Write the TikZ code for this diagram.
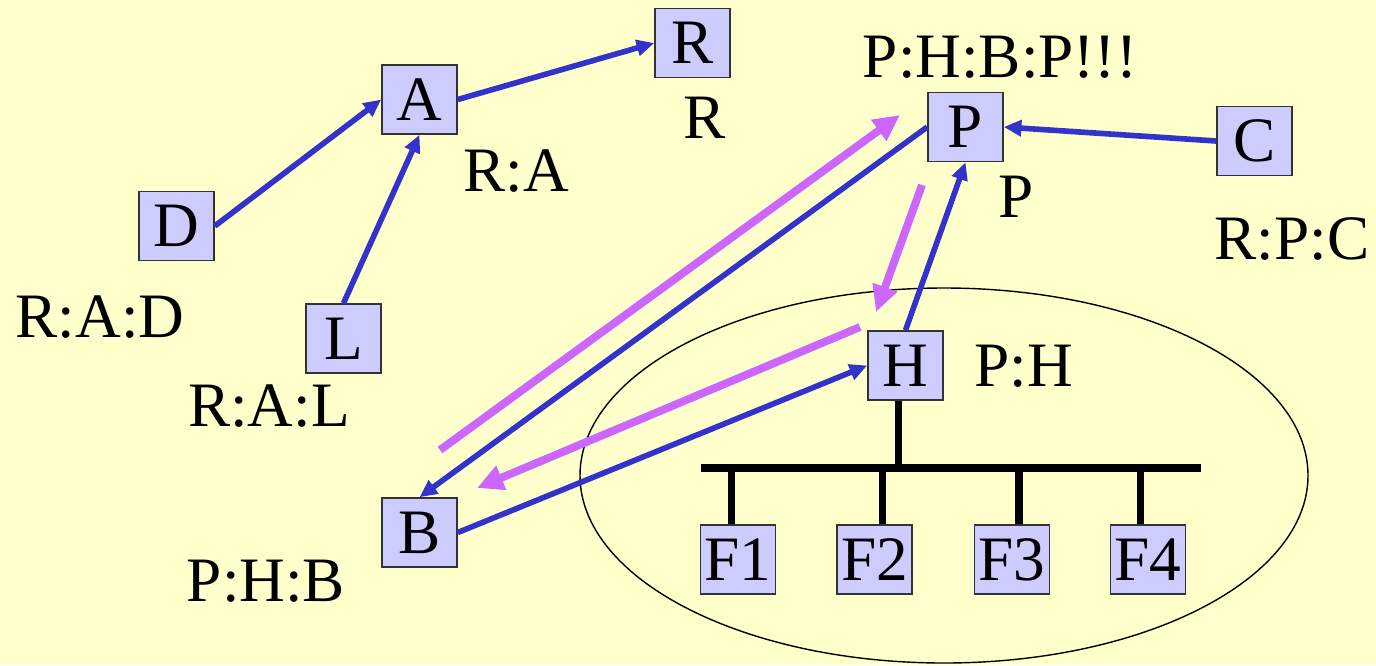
\documentclass[tikz,border=0pt]{standalone}
\usepackage{fontspec}
\setmainfont{Liberation Serif}
\usepackage{xcolor}
\definecolor{paper}{RGB}{255,255,204}
\definecolor{boxfill}{RGB}{204,204,255}
\definecolor{linkblue}{RGB}{51,51,204}
\definecolor{msgpink}{RGB}{204,102,255}
\usepackage{tikz}
\usetikzlibrary{
  arrows.meta,
  positioning,
  shapes.geometric
}

\begin{document}
\begin{tikzpicture}[
  host/.style={rectangle, draw=black!80, line width=0.9pt, fill=boxfill, minimum width=1.5cm, minimum height=1.38cm, inner sep=0pt, font=\fontsize{36}{36}\selectfont},
  tag/.style={inner sep=0pt, font=\fontsize{36}{36}\selectfont},
  edge/.style={-{Triangle[length=10pt, width=9pt]}, line width=3.2pt, linkblue},
  msg/.style={-{Triangle[length=15pt, width=14pt]}, line width=4.5pt, msgpink},
  bus/.style={line width=4.5pt, black}
]
  % Background
  \fill[paper] (0,0) rectangle (27.52,-13.3);
  \useasboundingbox (0,0) rectangle (27.52,-13.3);

  % Local network
  \node[ellipse, draw, line width=0.8pt, minimum width=14.56cm, minimum height=7.5cm] (lan) at (18.88,-9.51) {};

  % Hosts
  \node[host] (R) at (13.85,-0.86) {R};
  \node[host] (A) at (8.39,-1.99) {A};
  \node[host] (D) at (3.53,-4.52) {D};
  \node[host] (L) at (6.87,-6.77) {L};
  \node[host] (P) at (19.31,-2.54) {P};
  \node[host] (C) at (25.09,-2.82) {C};
  \node[host] (H) at (18.11,-7.31) {H};
  \node[host] (B) at (8.39,-10.65) {B};
  \node[host] (F1) at (14.76,-11.19) {F1};
  \node[host] (F2) at (17.49,-11.19) {F2};
  \node[host] (F3) at (20.24,-11.19) {F3};
  \node[host] (F4) at (22.96,-11.19) {F4};

  % Paths
  \node[tag] (tR) at (14.10,-2.36) {R};
  \node[tag] (tA) at (10.32,-3.42) {R:A};
  \node[tag] (tD) at (2.00,-6.34) {R:A:D};
  \node[tag] (tL) at (5.38,-8.12) {R:A:L};
  \node[tag] (tPtop) at (20.00,-1.14) {P:H:B:P!!!};
  \node[tag] (tP) at (20.32,-3.94) {P};
  \node[tag] (tC) at (25.84,-4.78) {R:P:C};
  \node[tag] (tH) at (20.48,-7.32) {P:H};
  \node[tag] (tB) at (5.32,-11.62) {P:H:B};

  % Bus
  \coordinate (busL) at (14.02,-9.36);
  \coordinate (busR) at (24.02,-9.36);
  \draw[bus] (busL) -- (busR);
  \draw[bus] ([xshift=-0.14cm]H.south) -- ([xshift=-0.14cm]H.south |- busL);
  \foreach \f/\dx in {F1/-0.13,F2/0.16,F3/0.14,F4/-0.15}
    \draw[bus] ([xshift=\dx cm]\f.north) -- ([xshift=\dx cm]\f.north |- busL);

  % Edges
  \draw[edge] (D.east) -- (A.west);
  \draw[edge] (L.north) -- (A.south);
  \draw[edge] (A.east) -- (R.west);
  \draw[edge] (C.west) -- (P.east);
  \draw[edge] (P.west) -- (B.north);
  \draw[edge] (H.north) -- (P.south);
  \draw[edge] (B.east) -- (H.west);

  % Messages
  \coordinate (m1s) at (8.80,-9.00);
  \coordinate (m1e) at (18.00,-2.30);
  \coordinate (m2s) at (18.44,-3.70);
  \coordinate (m2e) at (17.52,-6.24);
  \coordinate (m3s) at (17.20,-6.54);
  \coordinate (m3e) at (9.54,-9.76);
  \draw[msg] (m1s) -- (m1e);
  \draw[msg] (m2s) -- (m2e);
  \draw[msg] (m3s) -- (m3e);
\end{tikzpicture}
\end{document}
